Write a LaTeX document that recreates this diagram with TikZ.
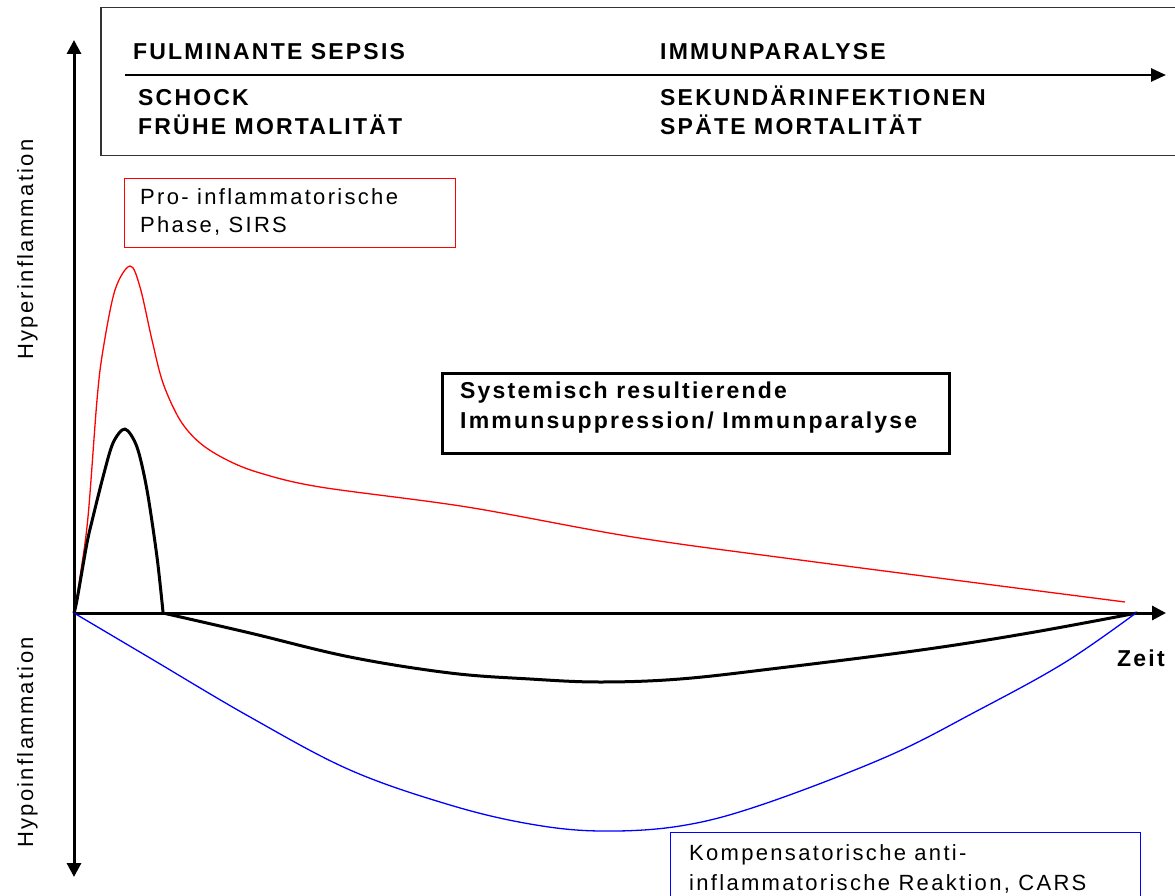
\documentclass[tikz,border=0pt]{standalone}
\usepackage{fontspec}
\setmainfont{Liberation Sans}
\newfontfamily\lsBold{Liberation Sans}[LetterSpace=9.5]
\newfontfamily\lsReg{Liberation Sans}[LetterSpace=10.5]
\usetikzlibrary{arrows.meta}
\begin{document}
\begin{tikzpicture}[x=1pt,y=-1pt,
  axisline/.style={line width=3pt,-{Triangle[length=14pt,width=14pt]}},
  bothaxis/.style={line width=3pt,{Triangle[length=14pt,width=14pt]}-{Triangle[length=14pt,width=14pt]}},
  toparrow/.style={line width=2.5pt,-{Triangle[length=15pt,width=13pt]}},
  curveK/.style={line width=3pt,black,line join=round,line cap=round},
  curveR/.style={line width=1.3pt,red,line join=round},
  curveB/.style={line width=1.3pt,blue,line join=round},
  captxt/.style={inner sep=0pt,anchor=base west,font=\lsBold\bfseries\fontsize{23}{28}\selectfont},
  regtxt/.style={inner sep=0pt,anchor=base west,font=\lsReg\fontsize{22}{28}\selectfont},
  frame/.style={inner sep=0pt,anchor=north west}
]
\useasboundingbox (0,0) rectangle (1175,896);
\fill[white] (0,0) rectangle (1175,896);

% header box
\node[frame,draw=black!80,line width=1.5pt,minimum width=1100,minimum height=148] (topbox) at (100,7) {};
\coordinate (ts) at (125,75);
\coordinate (te) at (1166,75);
\draw[toparrow] (ts) -- (te);
\node[captxt] (fs) at (133,60) {FULMINANTE SEPSIS};
\node[captxt] (ip) at (660,60) {IMMUNPARALYSE};
\node[captxt] (sch) at (138,106) {SCHOCK};
\node[captxt] (fm) at (138,135) {FRÜHE MORTALITÄT};
\node[captxt] (sek) at (660,106) {SEKUNDÄRINFEKTIONEN};
\node[captxt] (sm) at (660,135) {SPÄTE MORTALITÄT};

% red box
\node[frame,draw=red,line width=1.2pt,minimum width=331,minimum height=69] (probox) at (124,178) {};
\node[regtxt] (pro1) at (140,205) {Pro- inflammatorische};
\node[regtxt] (pro2) at (140,233) {Phase, SIRS};

% middle box
\node[frame,draw=black,line width=2.5pt,minimum width=507,minimum height=80] (midbox) at (441,372) {};
\node[captxt] (mid1) at (460,398) {Systemisch resultierende};
\node[captxt] (mid2) at (460,428) {Immunsuppression/ Immunparalyse};

% blue box
\node[frame,draw=blue,line width=1.4pt,minimum width=470,minimum height=90] (carsbox) at (670,832) {};
\node[regtxt] (cars1) at (689,860) {Kompensatorische anti-};
\node[regtxt] (cars2) at (689,890) {inflammatorische Reaktion, CARS};

% axes
\coordinate (O) at (74,613);
\coordinate (ytop) at (74,40);
\coordinate (ybot) at (74,877);
\coordinate (xend) at (1166,613);
\draw[bothaxis] (ybot) -- (ytop);
\draw[axisline] (O) -- (xend);
\node[captxt] (zeit) at (1117,666) {Zeit};
\node[regtxt,rotate=90] (hyper) at (33,360) {Hyperinflammation};
\node[regtxt,rotate=90] (hypo) at (33,848) {Hypoinflammation};

% curves
\draw[curveR] plot[smooth,tension=0.55] coordinates {(74,613) (80,577) (88,517) (97,400) (103,350) (115,290) (130,266) (140,287) (152,340) (163,383) (180,420) (200,443) (227,460) (260,473) (320,487) (467,507) (633,537) (800,560) (1125,602)};
\draw[curveK] plot[smooth,tension=0.5] coordinates {(74,613) (77,600) (87,543) (93,517) (103,477) (113,443) (125,429) (137,447) (147,490) (157,557) (163,612)};
\draw[curveK] plot[smooth,tension=0.6] coordinates {(163,613) (250,633) (350,657) (450,673) (530,679) (600,682) (680,679) (779,668) (921,650) (1029,633) (1137,613)};
\draw[curveB] plot[smooth,tension=0.6] coordinates {(74,613) (150,658) (250,717) (350,770) (450,805) (530,824) (600,831) (680,826) (761,805) (886,757) (975,712) (1064,663) (1136,613)};
\end{tikzpicture}
\end{document}
